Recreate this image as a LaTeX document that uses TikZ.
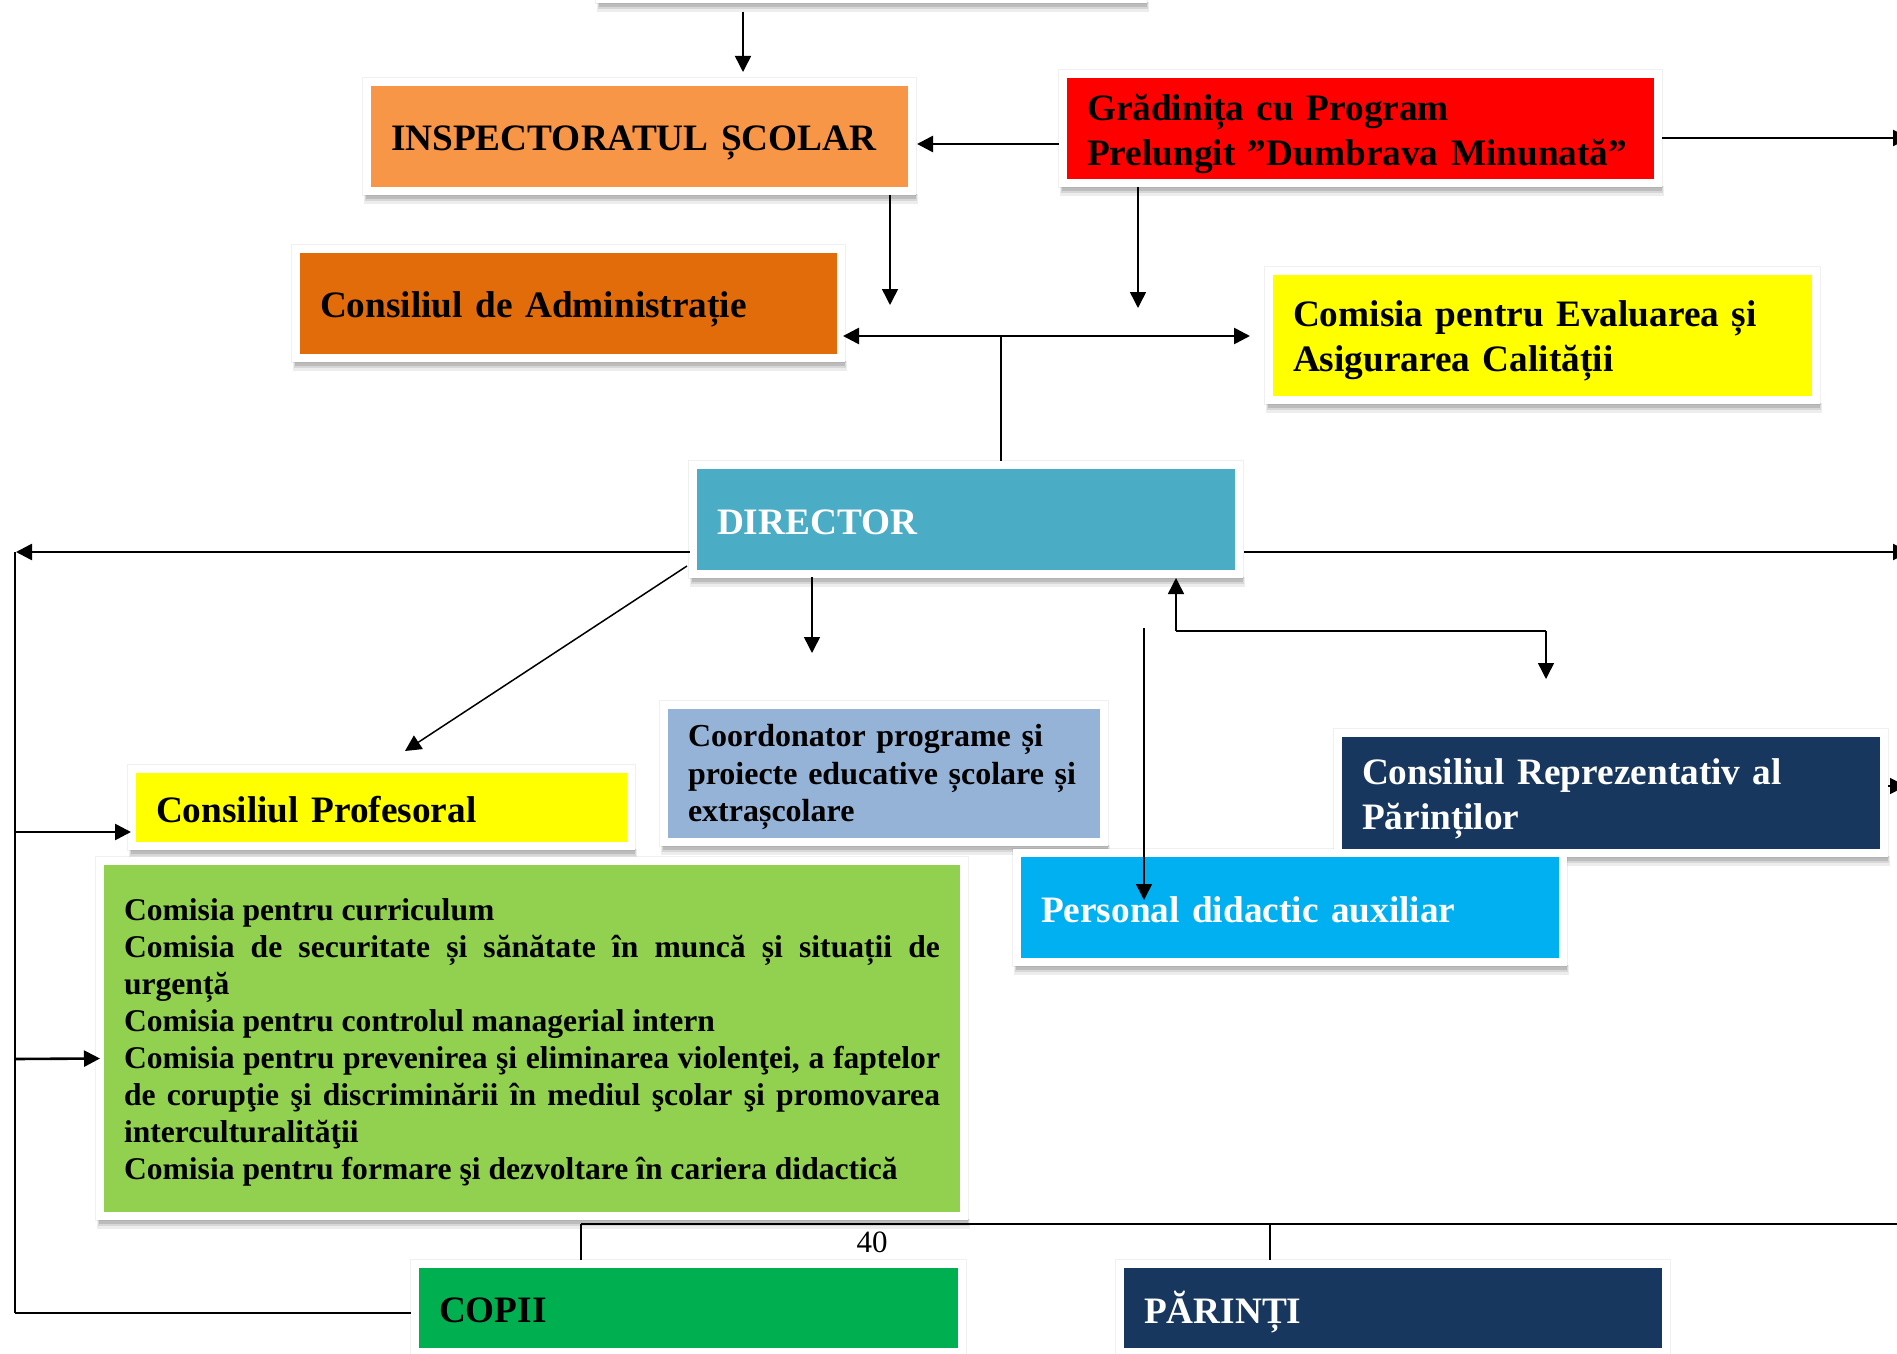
\documentclass[tikz,border=0pt]{standalone}
\usepackage{fontspec}
\setmainfont{Liberation Serif}
\usetikzlibrary{arrows.meta,calc}
\pgfdeclarelayer{background}
\pgfsetlayers{background,main}
\definecolor{cInsp}{HTML}{F79646}
\definecolor{cGrad}{HTML}{FF0000}
\definecolor{cAdm}{HTML}{E36C0A}
\definecolor{cYel}{HTML}{FFFF00}
\definecolor{cDir}{HTML}{4BACC6}
\definecolor{cCoord}{HTML}{95B3D7}
\definecolor{cNavy}{HTML}{17375E}
\definecolor{cPers}{HTML}{00B0F0}
\definecolor{cGreen}{HTML}{92D050}
\definecolor{cCopii}{HTML}{00B050}
\tikzset{
  box/.style={inner sep=0pt, outer sep=0pt,
    preaction={draw=white, line width=8pt}},
  txt/.style={inner sep=0pt, outer sep=0pt, align=left,
    font=\bfseries\fontsize{18.65pt}{22.2pt}\selectfont},
  smallfont/.style={font=\bfseries\fontsize{16pt}{18.8pt}\selectfont},
  thk/.style={line width=1.3pt},
  thn/.style={line width=0.75pt},
}
\begin{document}
\begin{tikzpicture}[x=0.5pt,y=-0.5pt,>={Triangle[length=8pt,width=8pt]}]
\useasboundingbox (0,0) rectangle (1897,1354);
\begin{pgfonlayer}{background}
\fill[white] (0,0) rectangle (1897,1354);
\end{pgfonlayer}

% boxes
\node[box, fill=white, minimum width=267.5pt, minimum height=47.5pt] (top) at (871.5,-52.5) {};

\node[box, fill=cInsp, minimum width=268.5pt, minimum height=50.5pt] (insp) at (639.5,136.5) {};
\node[txt, text width=248.5pt] (inspT) at ([yshift=-3.4pt]insp.center) {INSPECTORATUL ȘCOLAR};

\node[box, fill=cGrad, minimum width=293.5pt, minimum height=50.5pt] (grad) at (1360.5,128.5) {};
\node[txt, text width=273.5pt] (gradT) at ([yshift=-2.8pt]grad.center) {Grădinița cu Program\\Prelungit ”Dumbrava Minunată”};

\node[box, fill=cAdm, minimum width=268.5pt, minimum height=50.5pt] (admin) at (568.5,303.5) {};
\node[txt, text width=248.5pt] (adminT) at ([yshift=-3pt]admin.center) {Consiliul de Administrație};

\node[box, fill=cYel, minimum width=269.5pt, minimum height=60.5pt] (eval) at (1542.5,335.5) {};
\node[txt, text width=249.5pt] (evalT) at ([yshift=-2.7pt]eval.center) {Comisia pentru Evaluarea și\\Asigurarea Calității};

\node[box, fill=cDir, minimum width=269pt, minimum height=50.5pt] (dir) at (966,519.5) {};
\node[txt, text=white, text width=249pt] (dirT) at ([yshift=-1.2pt]dir.center) {DIRECTOR};

\node[box, fill=cYel, minimum width=245.5pt, minimum height=34.5pt] (prof) at (381.5,807.5) {};
\node[txt, text width=225.5pt] (profT) at ([yshift=-1.2pt]prof.center) {Consiliul Profesoral};

\node[box, fill=cCoord, minimum width=216pt, minimum height=64.5pt] (coord) at (884,773.5) {};
\node[txt, smallfont, text width=196pt] (coordT) at ([yshift=-1.8pt]coord.center) {Coordonator programe și\\proiecte educative școlare și\\extrașcolare};

\node[box, fill=cPers, minimum width=269pt, minimum height=50.5pt] (pers) at (1290,907.5) {};
\node[txt, text=white, text width=249pt] (persT) at ([yshift=-1.2pt]pers.center) {Personal didactic auxiliar};

\node[box, fill=cNavy, minimum width=269pt, minimum height=56pt] (crp) at (1611,793) {};
\node[txt, text=white, text width=249pt] (crpT) at ([yshift=-3pt]crp.center) {Consiliul Reprezentativ al\\Părinților};

\node[box, fill=cGreen, minimum width=428pt, minimum height=173.5pt] (green) at (532,1038.5) {};
\node[inner sep=0pt] (greenT) at ([yshift=-1.8pt]green.center) {\parbox{408pt}{\fontsize{15.8pt}{18.5pt}\selectfont\bfseries\parindent=0pt\tolerance=10000
Comisia pentru curriculum\par
Comisia de securitate și sănătate în muncă și situații de\linebreak urgență\par
Comisia pentru controlul managerial intern\par
Comisia pentru prevenirea şi eliminarea violenţei, a faptelor\linebreak de corupţie şi discriminării în mediul şcolar şi promovarea\linebreak interculturalităţii\par
Comisia pentru formare şi dezvoltare în cariera didactică}};

\node[box, fill=cCopii, minimum width=269.5pt, minimum height=40pt] (copii) at (688.5,1308) {};
\node[txt, text width=249.5pt] (copiiT) at ([yshift=-1.3pt]copii.center) {COPII};

\node[box, fill=cNavy, minimum width=269pt, minimum height=40pt] (par) at (1393,1308) {};
\node[txt, text=white, text width=249pt] (parT) at ([yshift=-1.8pt]par.center) {PĂRINȚI};

\node[font=\fontsize{15.5pt}{18pt}\selectfont, inner sep=0pt] (pnum) at (872,1242) {40};

% shadows
\begin{pgfonlayer}{background}
\foreach \n in {top,insp,grad,admin,eval,dir,prof,coord,pers,crp,green,copii,par}{
  \fill[black, opacity=.06] ([shift={(-9,-9)}]\n.north west) rectangle ([shift={(9,9)}]\n.south east);
  \fill[black, opacity=.07] ([shift={(-7,7)}]\n.south west) rectangle ([shift={(10,17)}]\n.south east);
  \fill[black, opacity=.09] ([shift={(-6,7)}]\n.south west) rectangle ([shift={(9,14)}]\n.south east);
  \fill[black, opacity=.12] ([shift={(-5,7)}]\n.south west) rectangle ([shift={(8,12)}]\n.south east);
}
\end{pgfonlayer}

% free-end coordinates
\coordinate (eR1) at (1909,138);
\coordinate (d1) at (890,305);
\coordinate (d2) at (1138,308);
\coordinate (j1) at (1001,336);
\coordinate (L1) at (16,552);
\coordinate (L0) at (15,552);
\coordinate (Lp) at (15,832);
\coordinate (Lg) at (15,1059);
\coordinate (L3) at (15,1313);
\coordinate (R2) at (1909,552);
\coordinate (p1) at (405,751);
\coordinate (c1) at (812,653);
\coordinate (s1) at (1144,628);
\coordinate (k1) at (1176,631);
\coordinate (k2) at (1546,631);
\coordinate (R3) at (1906,786);
\coordinate (b1) at (581,1224);
\coordinate (b2) at (1910,1224);
\coordinate (b3) at (1270,1224);

% connectors
\draw[thn,->] ([shift={(-128.5,17)}]top.south) -- ([shift={(103.5,-14)}]insp.north);
\draw[thk,->] ([shift={(-8,15.5)}]grad.west) -- ([shift={(9,7.5)}]insp.east);
\draw[thk,->] ([shift={(8,9.5)}]grad.east) -- (eR1);
\draw[thn,->] ([shift={(250.5,8)}]insp.south) -- (d1);
\draw[thn,->] ([shift={(-222.5,8)}]grad.south) -- (d2);
\draw[thk,<->] ([shift={(6,32.5)}]admin.east) -- ([shift={(-23,0.5)}]eval.west);
\draw[thn] ([shift={(35,-8)}]dir.north) -- (j1);
\draw[thk,->] ([shift={(-7,32.5)}]dir.west) -- (L1);
\draw[thn] (L0) -- (L3);
\draw[thk,->] (Lp) -- ([shift={(-5,24.5)}]prof.west);
\draw[thk,->] (Lg) -- ([shift={(-4,20)}]green.west);
\draw[thk] (L3) -- ([shift={(-8,5)}]copii.west);
\draw[thk,->] ([shift={(9,32.5)}]dir.east) -- (R2);
\draw[thn,->] ([shift={(-10,-4)}]dir.south west) -- (p1);
\draw[thn,->] ([shift={(-154,7)}]dir.south) -- (c1);
\draw[thn,->] (s1) -- ([shift={(-146,43)}]pers.north);
\draw[thn,->] (k1) -- ([shift={(210,8)}]dir.south);
\draw[thk] (k1) -- (k2);
\draw[thn,->] (k2) -- ([shift={(-65,-58)}]crp.north);
\draw[thn,->] ([shift={(8,-7)}]crp.east) -- (R3);
\draw[thk] (b1) -- (b2);
\draw[thn] (b1) -- ([shift={(-107.5,-8)}]copii.north);
\draw[thn] (b3) -- ([shift={(-123,-8)}]par.north);
\end{tikzpicture}
\end{document}
